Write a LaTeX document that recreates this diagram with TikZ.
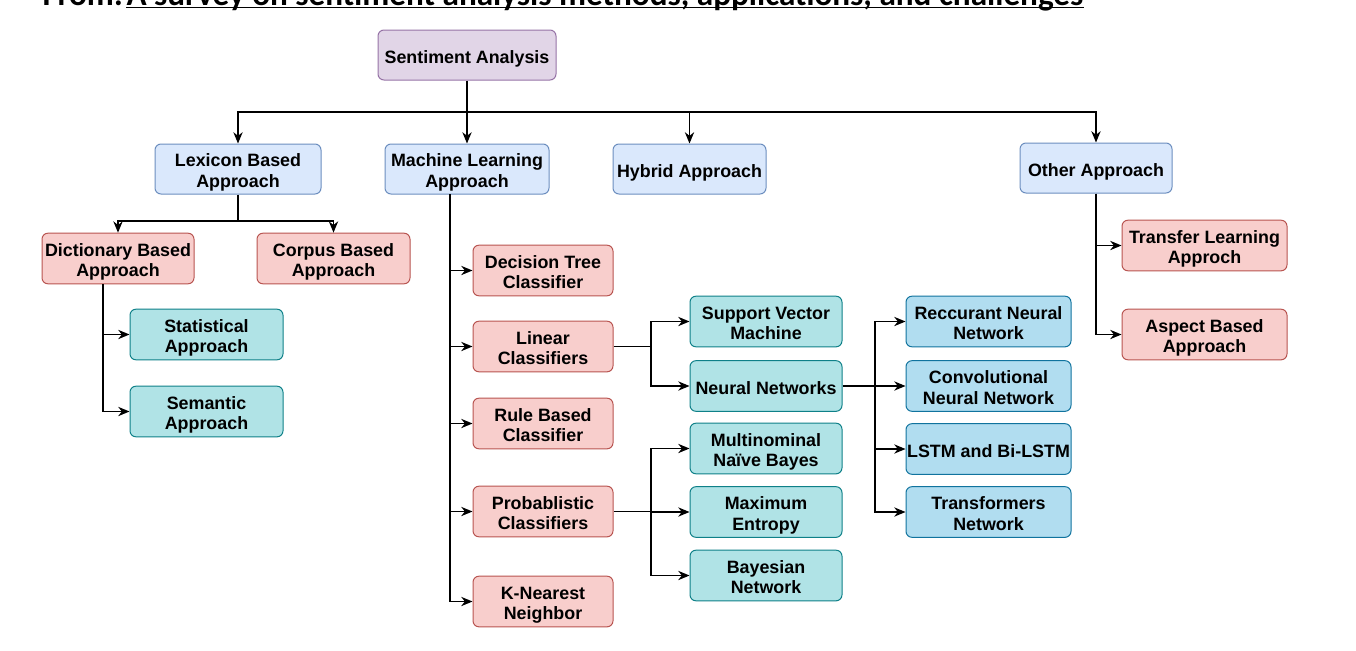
\documentclass[tikz,border=0pt]{standalone}
\usepackage{fontspec}
\setmainfont{Liberation Sans}
\newfontfamily\srcfont{Carlito}
\usetikzlibrary{arrows.meta}

\definecolor{purpfill}{HTML}{E1D5E7}
\definecolor{purpline}{HTML}{9673A6}
\definecolor{bluefill}{HTML}{DAE8FC}
\definecolor{blueline}{HTML}{6C8EBF}
\definecolor{redfill}{HTML}{F8CECC}
\definecolor{redline}{HTML}{B85450}
\definecolor{tealfill}{HTML}{B0E3E6}
\definecolor{tealline}{HTML}{0E8088}
\definecolor{skyfill}{HTML}{B1DDF0}
\definecolor{skyline}{HTML}{10739E}

\newlength\boxtop
\setlength\boxtop{30.5pt}
\newcommand\topstrut{\rule{0pt}{\boxtop}}
\newcommand\botstrut{\rule[-3pt]{0pt}{3pt}}

\tikzset{every picture/.style={line width=0.75pt}}

\begin{document}
\begin{tikzpicture}[x=0.75pt,y=0.75pt,yscale=-1,xscale=1,
	box/.style={draw, rounded corners=4.5pt, minimum height=38pt, inner sep=0pt, align=center,
		font=\bfseries\fontsize{13.4}{15.5}\selectfont,
		execute at begin node=\topstrut, execute at end node=\botstrut},
	oneline/.style={/utils/exec={\setlength\boxtop{15pt}}},
	purpbox/.style={box, fill=purpfill, draw=purpline},
	bluebox/.style={box, fill=bluefill, draw=blueline},
	redbox/.style={box, fill=redfill, draw=redline},
	tealbox/.style={box, fill=tealfill, draw=tealline},
	skybox/.style={box, fill=skyfill, draw=skyline},
	link/.style={line width=0.95pt},
	arr/.style={link, -{Stealth[length=8.5pt,width=7pt]}}]
	\useasboundingbox (0,0) rectangle (1356,650);

	% Source line (cut at the top)
	\node[anchor=base west, inner sep=0pt, font=\srcfont\bfseries\fontsize{24.9}{26}\selectfont] (from) at (42,5.5) {From:};
	\node[anchor=base west, inner sep=0pt, font=\srcfont\bfseries\fontsize{24.9}{26}\selectfont] (ttl) at (126,5.5) {A survey on sentiment analysis methods, applications, and challenges};
	\draw[line width=1pt] ([yshift=1.6pt]ttl.base west) -- ([yshift=1.6pt]ttl.base east);

	% Root
	\node[purpbox, oneline, minimum width=133.5pt, minimum height=37.5pt] (sa) at (467,55) {Sentiment Analysis};

	% First level
	\node[bluebox, minimum width=124.5pt, minimum height=37.5pt] (lex) at (238,169) {Lexicon Based\\Approach};
	\node[bluebox, minimum width=123pt, minimum height=37.5pt] (ml) at (467,169) {Machine Learning\\Approach};
	\node[bluebox, oneline, minimum width=114.75pt, minimum height=37.5pt] (hyb) at (689.5,169) {Hybrid Approach};
	\node[bluebox, oneline, minimum width=114pt, minimum height=37.5pt] (oth) at (1096,168) {Other Approach};

	% Lexicon branch
	\node[redbox, minimum width=114pt] (dict) at (118,258.5) {Dictionary Based\\Approach};
	\node[redbox, minimum width=114.75pt] (corp) at (333.5,258.5) {Corpus Based\\Approach};
	\node[tealbox, minimum width=114.75pt] (stat) at (206.5,334.5) {Statistical\\Approach};
	\node[tealbox, minimum width=114.75pt] (sem) at (206.5,411.5) {Semantic\\Approach};

	% Machine learning branch
	\node[redbox, minimum width=105pt] (dt) at (543,270.5) {Decision Tree\\Classifier};
	\node[redbox, minimum width=105pt] (lin) at (543,346.5) {Linear\\Classifiers};
	\node[redbox, minimum width=105pt] (rule) at (543,423.5) {Rule Based\\Classifier};
	\node[redbox, minimum width=105pt] (prob) at (543,511.5) {Probablistic\\Classifiers};
	\node[redbox, minimum width=105pt] (knn) at (543,601.5) {K-Nearest\\Neighbor};

	\node[tealbox, minimum width=114pt] (svm) at (766,321.5) {Support Vector\\Machine};
	\node[tealbox, oneline, minimum width=114pt] (nn) at (766,386) {Neural Networks};
	\node[tealbox, minimum width=114pt] (mnb) at (766,448.5) {Multinominal\\Naïve Bayes};
	\node[tealbox, minimum width=114pt] (me) at (766,512) {Maximum\\Entropy};
	\node[tealbox, minimum width=114pt] (bn) at (766,575.5) {Bayesian\\Network};

	\node[skybox, minimum width=123.75pt] (rnn) at (988.5,321.5) {Reccurant Neural\\Network};
	\node[skybox, minimum width=123.75pt] (cnn) at (988.5,386) {Convolutional\\Neural Network};
	\node[skybox, oneline, minimum width=123.75pt] (lstm) at (988.5,449) {LSTM and Bi-LSTM};
	\node[skybox, minimum width=123.75pt] (trf) at (988.5,512) {Transformers\\Network};

	% Other branch
	\node[redbox, minimum width=123.75pt] (tl) at (1204.5,245.5) {Transfer Learning\\Approch};
	\node[redbox, minimum width=123.75pt] (asp) at (1204.5,334.5) {Aspect Based\\Approach};

	% Junctions
	\coordinate (j0) at (467,112);
	\coordinate (j1) at (238,221);
	\coordinate (d0) at (103,284);
	\coordinate (m0) at (450,194);
	\coordinate (l0) at (651,346.5);
	\coordinate (p0) at (651,511.5);
	\coordinate (n0) at (875,386);

	% Connectors
	\draw[link] (sa.south) -- (j0);
	\draw[arr] (j0) -| (lex.north);
	\draw[arr] (j0) -- (ml.north);
	\draw[arr] (j0) -| (hyb.north);
	\draw[arr] (j0) -| (oth.north);

	\draw[link] (lex.south) -- (j1);
	\draw[arr] (j1) -| (dict.north);
	\draw[arr] (j1) -| (corp.north);
	\draw[arr] (d0) |- (stat.west);
	\draw[arr] (d0) |- (sem.west);

	\foreach \n in {dt,lin,rule,prob,knn}
		\draw[arr] (m0) |- (\n.west);

	\draw[link] (lin.east) -- (l0);
	\draw[arr] (l0) |- (svm.west);
	\draw[arr] (l0) |- (nn.west);

	\draw[link] (prob.east) -- (p0);
	\foreach \n in {mnb,me,bn}
		\draw[arr] (p0) |- (\n.west);

	\draw[link] (nn.east) -- (n0);
	\foreach \n in {rnn,cnn,lstm,trf}
		\draw[arr] (n0) |- (\n.west);

	\draw[arr] (oth.south) |- (tl.west);
	\draw[arr] (oth.south) |- (asp.west);

\end{tikzpicture}
\end{document}
